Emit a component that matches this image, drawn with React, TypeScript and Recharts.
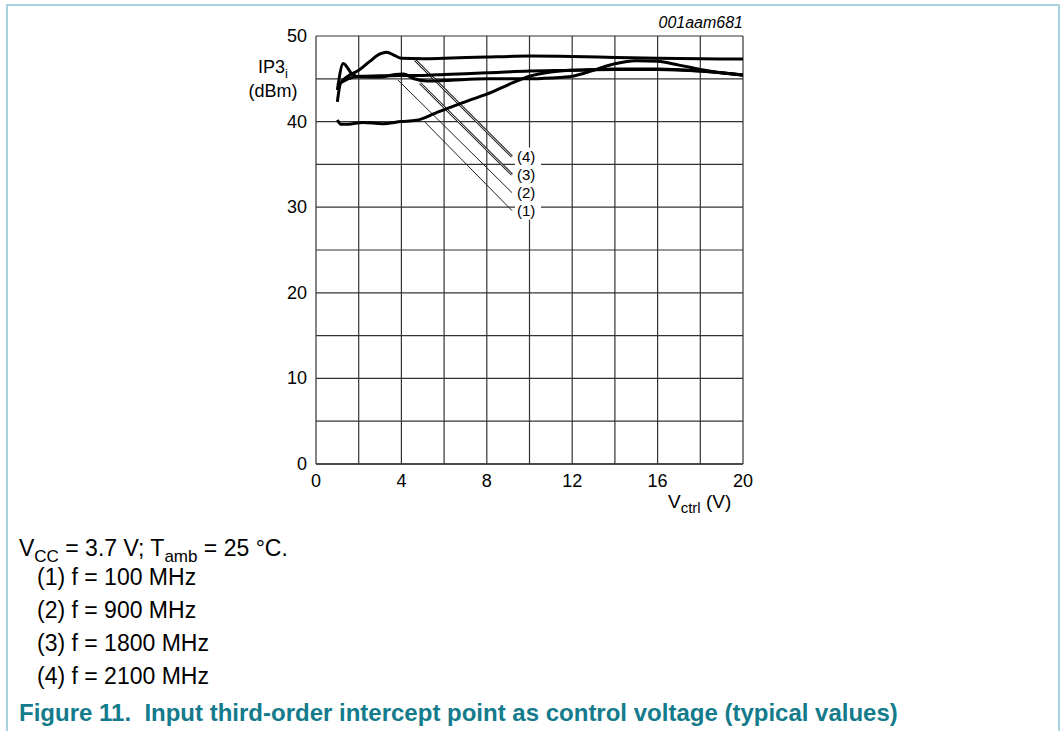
import React from "react";
import { LineChart, Line, XAxis, YAxis, CartesianGrid, ReferenceLine } from "recharts";

// Vctrl (V) vs IP3i (dBm)
const curve1 = [
  { v: 1.0, ip3: 40.2 }, { v: 1.17, ip3: 39.7 }, { v: 1.5, ip3: 39.7 }, { v: 2.2, ip3: 39.9 },
  { v: 3.1, ip3: 39.75 }, { v: 4.0, ip3: 40.0 }, { v: 4.7, ip3: 40.15 }, { v: 5.6, ip3: 41.0 },
  { v: 7.2, ip3: 42.5 }, { v: 8.0, ip3: 43.2 }, { v: 9.0, ip3: 44.3 }, { v: 10.0, ip3: 45.3 },
  { v: 11.0, ip3: 45.8 }, { v: 12.0, ip3: 46.0 }, { v: 14.0, ip3: 46.1 }, { v: 16.0, ip3: 46.1 },
  { v: 18.0, ip3: 45.9 }, { v: 20.0, ip3: 45.4 },
];
const curve2 = [
  { v: 1.0, ip3: 43.7 }, { v: 1.28, ip3: 46.8 }, { v: 1.67, ip3: 45.6 }, { v: 2.0, ip3: 45.25 },
  { v: 3.0, ip3: 45.2 }, { v: 3.7, ip3: 45.5 }, { v: 4.1, ip3: 45.55 }, { v: 4.6, ip3: 45.0 },
  { v: 5.2, ip3: 44.75 }, { v: 6.0, ip3: 44.8 }, { v: 8.0, ip3: 45.0 }, { v: 10.0, ip3: 45.0 },
  { v: 11.0, ip3: 45.1 }, { v: 12.0, ip3: 45.3 }, { v: 13.0, ip3: 46.0 }, { v: 14.0, ip3: 46.75 },
  { v: 15.0, ip3: 47.1 }, { v: 16.0, ip3: 47.05 }, { v: 17.0, ip3: 46.6 }, { v: 18.0, ip3: 46.1 },
  { v: 19.0, ip3: 45.7 }, { v: 20.0, ip3: 45.45 },
];
const curve3 = [
  { v: 1.0, ip3: 44.3 }, { v: 1.5, ip3: 45.0 }, { v: 2.0, ip3: 45.3 }, { v: 3.0, ip3: 45.35 },
  { v: 4.0, ip3: 45.4 }, { v: 5.0, ip3: 45.4 }, { v: 6.0, ip3: 45.5 }, { v: 8.0, ip3: 45.7 },
  { v: 10.0, ip3: 45.9 }, { v: 12.0, ip3: 46.0 }, { v: 14.0, ip3: 46.15 }, { v: 16.0, ip3: 46.15 },
  { v: 18.0, ip3: 45.9 }, { v: 20.0, ip3: 45.45 },
];
const curve4 = [
  { v: 1.0, ip3: 42.3 }, { v: 1.15, ip3: 44.5 }, { v: 1.5, ip3: 45.3 }, { v: 2.0, ip3: 46.0 },
  { v: 2.5, ip3: 47.0 }, { v: 3.0, ip3: 47.9 }, { v: 3.3, ip3: 48.1 }, { v: 3.7, ip3: 47.7 },
  { v: 4.0, ip3: 47.4 }, { v: 5.0, ip3: 47.35 }, { v: 6.0, ip3: 47.4 }, { v: 8.0, ip3: 47.55 },
  { v: 10.0, ip3: 47.65 }, { v: 12.0, ip3: 47.6 }, { v: 14.0, ip3: 47.5 }, { v: 16.0, ip3: 47.4 },
  { v: 18.0, ip3: 47.35 }, { v: 20.0, ip3: 47.3 },
];

const xTicks = [0, 2, 4, 6, 8, 10, 12, 14, 16, 18, 20];
const yTicks = [0, 5, 10, 15, 20, 25, 30, 35, 40, 45, 50];

// leader lines: label, point on curve -> label end
const leaders = [
  { label: "(4)", from: [4.64, 47.2], to: [9.18, 35.9], double: true },
  { label: "(3)", from: [4.87, 44.5], to: [9.18, 33.8], double: true },
  { label: "(2)", from: [3.84, 44.85], to: [9.18, 31.7], double: false },
  { label: "(1)", from: [5.1, 39.95], to: [9.18, 29.6], double: false },
];

const legendLines = ["(1) f = 100 MHz", "(2) f = 900 MHz", "(3) f = 1800 MHz", "(4) f = 2100 MHz"];

const font = "Arial, 'Liberation Sans', sans-serif";

const XTick = (props: any) => {
  const { x, y, payload } = props;
  if (payload.value % 4 !== 0) return null;
  return (
    <text x={x} y={y} dy={15} textAnchor="middle" fontSize={18} fill="#000" fontFamily={font}>
      {payload.value}
    </text>
  );
};

const YTick = (props: any) => {
  const { x, y, payload } = props;
  if (payload.value % 10 !== 0) return null;
  return (
    <text x={x - 1} y={y} dy={6} textAnchor="end" fontSize={18} fill="#000" fontFamily={font}>
      {payload.value}
    </text>
  );
};

const LeaderLabel = (props: any) => {
  const { viewBox, value } = props;
  if (!viewBox) return null;
  const x = viewBox.x + viewBox.width;
  const y = viewBox.y + viewBox.height;
  return (
    <g>
      <rect x={x + 3} y={y - 9} width={26} height={18} fill="#fff" />
      <text x={x + 5} y={y + 5} fontSize={15} fill="#000" fontFamily={font}>
        {value}
      </text>
    </g>
  );
};

const series = [curve1, curve2, curve3, curve4];

const sub = (fs: number, top: number) => ({ fontSize: fs, position: "relative" as const, top, verticalAlign: "baseline" });

export default function App() {
  return (
    <div style={{ position: "absolute", left: 0, top: 0, width: 1061, height: 731, background: "#fff", fontFamily: font }}>
      <div style={{ position: "absolute", left: 6, top: 4, width: 1054, height: 2, background: "#a9d3dc" }} />
      <div style={{ position: "absolute", left: 6, top: 4, width: 2, height: 727, background: "#a9d3dc" }} />
      <div style={{ position: "absolute", left: 1058, top: 4, width: 2, height: 727, background: "#a9d3dc" }} />

      <div style={{ position: "absolute", left: 0, top: 0 }}>
        <LineChart width={1061} height={731} margin={{ top: 36, right: 318, bottom: 237, left: 276 }}>
          <CartesianGrid stroke="#333" strokeWidth={1.2} />
          <XAxis
            dataKey="v"
            type="number"
            domain={[0, 20]}
            ticks={xTicks}
            interval={0}
            axisLine={{ stroke: "#333", strokeWidth: 1.5 }}
            tickLine={false}
            tick={<XTick />}
            height={30}
            allowDataOverflow
          />
          <YAxis
            dataKey="ip3"
            type="number"
            domain={[0, 50]}
            ticks={yTicks}
            interval={0}
            axisLine={false}
            tickLine={false}
            tick={<YTick />}
            width={40}
            allowDataOverflow
          />
          {leaders.map((l) =>
            l.double ? (
              <React.Fragment key={l.label}>
                <ReferenceLine
                  segment={[{ x: l.from[0], y: l.from[1] }, { x: l.to[0], y: l.to[1] }]}
                  stroke="#222"
                  strokeWidth={2.6}
                  ifOverflow="visible"
                />
                <ReferenceLine
                  segment={[{ x: l.from[0], y: l.from[1] }, { x: l.to[0], y: l.to[1] }]}
                  stroke="#fff"
                  strokeWidth={0.9}
                  ifOverflow="visible"
                  label={<LeaderLabel value={l.label} />}
                />
              </React.Fragment>
            ) : (
              <ReferenceLine
                key={l.label}
                segment={[{ x: l.from[0], y: l.from[1] }, { x: l.to[0], y: l.to[1] }]}
                stroke="#222"
                strokeWidth={1}
                ifOverflow="visible"
                label={<LeaderLabel value={l.label} />}
              />
            )
          )}
          {series.map((d, i) => (
            <Line
              key={i}
              data={d}
              dataKey="ip3"
              type="monotone"
              stroke="#000"
              strokeWidth={3}
              dot={false}
              activeDot={false}
              isAnimationActive={false}
            />
          ))}
        </LineChart>
      </div>

      <div style={{ position: "absolute", left: 600, top: 14, width: 143, textAlign: "right", fontSize: 16, fontStyle: "italic" }}>
        001aam681
      </div>
      <div style={{ position: "absolute", left: 228, top: 56, width: 90, textAlign: "center", fontSize: 18, lineHeight: "22px" }}>
        <div>
          IP3<span style={sub(13, 5)}>i</span>
        </div>
        <div>(dBm)</div>
      </div>
      <div style={{ position: "absolute", left: 668, top: 491, fontSize: 19, lineHeight: "22px" }}>
        V<span style={sub(15, 5)}>ctrl</span> (V)
      </div>

      <div style={{ position: "absolute", left: 19, top: 535, fontSize: 23, lineHeight: "27px" }}>
        V<span style={sub(17, 6)}>CC</span> = 3.7 V; T<span style={sub(17, 6)}>amb</span> = 25 °C.
      </div>
      {legendLines.map((t, i) => (
        <div key={t} style={{ position: "absolute", left: 37, top: 564 + i * 33, fontSize: 23, lineHeight: "27px" }}>
          {t}
        </div>
      ))}
      <div style={{ position: "absolute", left: 19, top: 699, fontSize: 24, lineHeight: "28px", fontWeight: "bold", color: "#137b8c" }}>
        Figure 11.&nbsp;&nbsp;Input third-order intercept point as control voltage (typical values)
      </div>
    </div>
  );
}
